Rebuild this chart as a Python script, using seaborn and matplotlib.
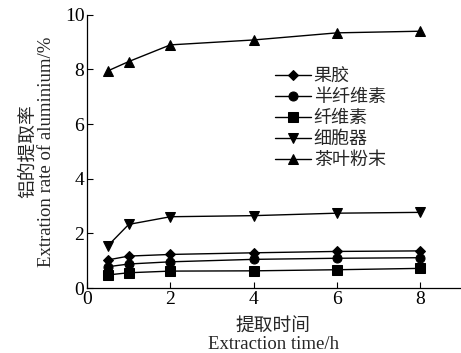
import matplotlib
matplotlib.use("Agg")
import matplotlib.pyplot as plt
import seaborn as sns
import pandas as pd

# extraction time (h)
hours = [0.5, 1, 2, 4, 6, 8]
pectin = [1.03, 1.17, 1.23, 1.29, 1.34, 1.36]       # 果胶
hemicellulose = [0.78, 0.88, 0.96, 1.05, 1.09, 1.11]  # 半纤维素
cellulose = [0.48, 0.56, 0.62, 0.63, 0.67, 0.72]    # 纤维素
organelle = [1.55, 2.33, 2.61, 2.65, 2.74, 2.77]    # 细胞器
tea_powder = [7.95, 8.29, 8.90, 9.08, 9.34, 9.40]   # 茶叶粉末

names = ['果胶', '半纤维素', '纤维素', '细胞器', '茶叶粉末']
series = [pectin, hemicellulose, cellulose, organelle, tea_powder]
markers = ['D', 'o', 's', 'v', '^']
msizes = [5.5, 6.5, 6.5, 7, 7]

sns.set_style('ticks')
fonts = ['Liberation Serif', 'Noto Sans CJK SC', 'DejaVu Sans']
plt.rcParams['font.family'] = fonts

fig = plt.figure(figsize=(4.61, 3.53), dpi=100)
ax = fig.add_axes([0.189, 0.184, 0.808, 0.774])

for name, vals, m, ms in zip(names, series, markers, msizes):
    df = pd.DataFrame({'t': hours, 'v': vals})
    sns.lineplot(data=df, x='t', y='v', ax=ax, color='black', marker=m,
                 markersize=ms, markeredgecolor='black', linewidth=1,
                 label=name)

ax.set_xlim(0, 8.95)
ax.set_ylim(0, 10)
ax.set_xticks([0, 2, 4, 6, 8])
ax.set_yticks([0, 2, 4, 6, 8, 10])
ax.tick_params(direction='in', length=4, width=0.8, labelsize=14, colors='black', pad=2)
for s in ['top', 'right']:
    ax.spines[s].set_visible(False)
for s in ['left', 'bottom']:
    ax.spines[s].set_linewidth(0.9)
    ax.spines[s].set_color('black')

ax.set_xlabel('提取时间\nExtraction time/h', fontsize=13.5, linespacing=1.0, labelpad=8)
ax.set_ylabel('铝的提取率\nExtration rate of aluminium/%', fontsize=13.5, linespacing=1.05, labelpad=7)

ax.legend(loc='upper left', bbox_to_anchor=(0.485, 0.83), frameon=False,
          fontsize=13, handlelength=2.0, handletextpad=0.15, labelspacing=0.22,
          borderaxespad=0)

fig.savefig('out.png', dpi=100)
